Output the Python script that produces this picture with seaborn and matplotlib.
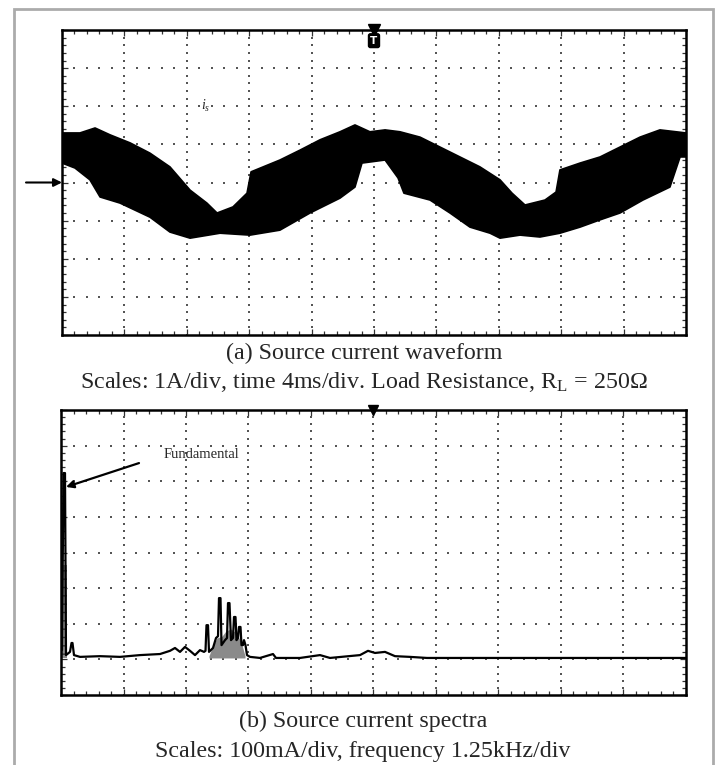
import numpy as np
import pandas as pd
import matplotlib
matplotlib.use("Agg")
import matplotlib.pyplot as plt
from matplotlib.lines import Line2D
import seaborn as sns

# ---------------- data ----------------
# (a) source current band envelope, time in ms, current in A
t_upper = [0, 1.15, 2.12, 3.08, 4.36, 5.64, 6.92, 8.21, 9.29, 9.94,
           10.96, 11.86, 12.12, 13.97, 15.26, 16.54, 17.82, 18.78, 19.74, 20.71,
           21.67, 22.95, 24.23, 25.51, 26.79, 28.08, 28.85, 29.68, 30.96, 31.67,
           31.92, 33.21, 34.49, 35.77, 37.05, 38.33, 40.0]
i_upper = [1.30, 1.30, 1.43, 1.25, 1.04, 0.77, 0.41, -0.20, -0.54, -0.80,
           -0.64, -0.28, 0.28, 0.59, 0.85, 1.12, 1.33, 1.51, 1.33, 1.38,
           1.33, 1.19, 0.93, 0.67, 0.41, 0.07, -0.28, -0.59, -0.46, -0.25,
           0.33, 0.51, 0.67, 0.93, 1.19, 1.38, 1.30]
t_lower = [0, 0.83, 1.79, 2.44, 3.72, 5.64, 6.92, 8.21, 10.13, 12.05,
           13.97, 15.90, 17.82, 18.78, 19.23, 20.71, 21.54, 21.92, 23.59, 24.87,
           26.15, 27.44, 28.08, 29.36, 30.64, 31.92, 33.21, 34.49, 35.77, 37.24,
           38.97, 39.62, 40.0]
i_lower = [0.51, 0.38, 0.07, -0.38, -0.54, -0.91, -1.30, -1.46, -1.33, -1.38,
           -1.25, -0.80, -0.41, -0.12, 0.51, 0.59, 0.12, -0.28, -0.46, -0.80,
           -1.17, -1.33, -1.46, -1.38, -1.43, -1.33, -1.17, -0.98, -0.80, -0.46,
           -0.12, 0.67, 0.67]

# (b) source current spectrum, frequency in kHz, amplitude in mA
freq = [0.02, 0.05, 0.08, 0.10, 0.18, 0.21, 0.23, 0.26, 0.38, 0.78,
        1.18, 1.58, 1.98, 2.18, 2.28, 2.38, 2.48, 2.58, 2.68, 2.78,
        2.86, 2.89, 2.91, 2.94, 2.96, 3.04, 3.10, 3.14, 3.16, 3.19,
        3.21, 3.28, 3.32, 3.34, 3.37, 3.40, 3.44, 3.46, 3.49, 3.51,
        3.54, 3.56, 3.59, 3.61, 3.64, 3.66, 3.69, 3.72, 3.78, 3.98,
        4.24, 4.30, 4.78, 5.18, 5.38, 5.98, 6.14, 6.28, 6.48, 6.68,
        6.98, 7.32, 12.5]
amp = [126, 623, 623, 112, 121, 146, 146, 112, 107, 109,
       107, 112, 115, 124, 132, 121, 135, 124, 112, 126,
       121, 124, 196, 196, 121, 132, 160, 165, 272, 272,
       140, 154, 160, 258, 258, 154, 160, 219, 219, 154,
       160, 191, 191, 140, 140, 154, 140, 112, 107, 104,
       115, 104, 104, 112, 104, 112, 124, 118, 121, 109,
       107, 104, 104]
fund_bar_f = [0.02, 0.12]
fund_bar_a = [365, 365]
cluster_f = [2.96, 3.04, 3.12, 3.22, 3.30, 3.40, 3.50, 3.60, 3.68]
cluster_a = [110, 140, 160, 165, 180, 185, 175, 150, 110]
noise_floor = 104

cap_a1 = "(a) Source current waveform"
cap_a2 = "Scales: 1A/div, time 4ms/div. Load Resistance, R$_{\\mathrm{L}}$ = 250Ω"
cap_b1 = "(b) Source current spectra"
cap_b2 = "Scales: 100mA/div, frequency 1.25kHz/div"

# ---------------- style ----------------
sns.set_theme(style="white")
plt.rcParams["font.family"] = ["Liberation Serif", "DejaVu Serif"]
plt.rcParams["mathtext.fontset"] = "custom"
plt.rcParams["mathtext.rm"] = "Liberation Serif"
plt.rcParams["mathtext.it"] = "Liberation Serif:italic"

W, H = 721, 765
fig = plt.figure(figsize=(W / 100, H / 100), dpi=100)

def frac_box(x0, y0, x1, y1):
    return [x0 / W, 1 - y1 / H, (x1 - x0) / W, (y1 - y0) / H]

ax1 = fig.add_axes(frac_box(62, 30, 686, 335))
ax2 = fig.add_axes(frac_box(61, 410, 686, 695))

def scope_axes(ax, xmax, ymin, ymax):
    ax.set_xlim(0, xmax)
    ax.set_ylim(ymin, ymax)
    xd = xmax / 10
    yd = (ymax - ymin) / 8
    xs_minor = np.linspace(0, xmax, 51)
    ys_minor = np.linspace(ymin, ymax, 41)
    for k in range(1, 8):
        yy = ymin + k * yd
        ax.scatter(xs_minor, np.full_like(xs_minor, yy), s=1.1, marker="s",
                   color="#555555", linewidths=0, zorder=1)
    for k in range(1, 10):
        xx = k * xd
        ax.scatter(np.full_like(ys_minor, xx), ys_minor, s=1.1, marker="s",
                   color="#555555", linewidths=0, zorder=1)
    ax.set_xticks(np.arange(0, 11) * xd)
    ax.set_yticks(ymin + np.arange(0, 9) * yd)
    ax.set_xticks(np.linspace(0, xmax, 51), minor=True)
    ax.set_yticks(np.linspace(ymin, ymax, 41), minor=True)
    ax.tick_params(which="both", direction="in", top=True, right=True,
                   bottom=True, left=True, labelbottom=False, labelleft=False,
                   color="#333333")
    ax.tick_params(which="major", length=4, width=0.9)
    ax.tick_params(which="minor", length=2.6, width=0.9)
    for s in ax.spines.values():
        s.set_color("black")
        s.set_linewidth(1.8)
    ax.grid(False)
    ax.set_xlabel("")
    ax.set_ylabel("")

scope_axes(ax1, 40, -4, 4)
scope_axes(ax2, 12.5, 0, 800)

# ---------------- (a) waveform ----------------
poly_t = np.concatenate([t_upper, t_lower[::-1]])
poly_i = np.concatenate([i_upper, i_lower[::-1]])
ax1.fill(poly_t, poly_i, color="black", lw=0, zorder=3)
sns.lineplot(x=t_upper, y=i_upper, ax=ax1, color="black", lw=1.2,
             estimator=None, sort=False, zorder=4)
sns.lineplot(x=t_lower, y=i_lower, ax=ax1, color="black", lw=1.2,
             estimator=None, sort=False, zorder=4)
ax1.set_xlabel("")
ax1.set_ylabel("")
ax1.text(9.2, 2.0, "$i_s$", fontsize=10, ha="center", va="center", zorder=5)
ax1.annotate("", xy=(0, 0), xytext=(-36, 0), textcoords="offset pixels",
             arrowprops=dict(arrowstyle="-|>", color="black", lw=1.5,
                             mutation_scale=12, shrinkA=0, shrinkB=0),
             annotation_clip=False)
ax1.plot([20], [4], marker="v", color="black", markersize=8, clip_on=False, zorder=6)
ax1.text(20, 3.72, "T", fontsize=7.5, fontweight="bold", color="white",
         ha="center", va="center", family="DejaVu Sans", zorder=7,
         bbox=dict(boxstyle="round,pad=0.18", fc="black", ec="black"))

# ---------------- (b) spectrum ----------------
ax2.fill_between(fund_bar_f, noise_floor, fund_bar_a, color="#8a8a8a",
                 hatch="--", edgecolor="#333333", lw=0, zorder=2)
ax2.fill_between(cluster_f, noise_floor, cluster_a, color="#8a8a8a", lw=0, zorder=2)
spec = pd.DataFrame({"f": freq, "a": amp})
sns.lineplot(data=spec, x="f", y="a", ax=ax2, color="black", lw=1.6,
             estimator=None, sort=False, zorder=4)
ax2.set_xlabel("")
ax2.set_ylabel("")
ax2.plot([6.25], [800], marker="v", color="black", markersize=7, clip_on=False, zorder=6)
ax2.annotate("", xy=(0.10, 584), xytext=(1.56, 651),
             arrowprops=dict(arrowstyle="-|>", color="black", lw=1.6,
                             mutation_scale=11, shrinkA=0, shrinkB=0), zorder=6)
ax2.text(2.8, 674, "Fundamental", fontsize=10.5, ha="center", va="center", zorder=6)

# ---------------- captions ----------------
def fy(ypx):
    return 1 - ypx / H

cap_fs = 17.3
fig.text(364 / W, fy(359), cap_a1, ha="center", va="baseline", fontsize=cap_fs)
fig.text(364 / W, fy(388), cap_a2, ha="center", va="baseline", fontsize=cap_fs)
fig.text(363 / W, fy(727), cap_b1, ha="center", va="baseline", fontsize=cap_fs)
fig.text(363 / W, fy(757), cap_b2, ha="center", va="baseline", fontsize=cap_fs)

# ---------------- outer frame ----------------
frame_x = [14 / W, 14 / W, 713 / W, 713 / W]
frame_y = [0, fy(9), fy(9), 0]
fig.add_artist(Line2D(frame_x, frame_y, color="#ababab", lw=2.0,
                      solid_joinstyle="miter"))

fig.savefig("out.png", dpi=100)
